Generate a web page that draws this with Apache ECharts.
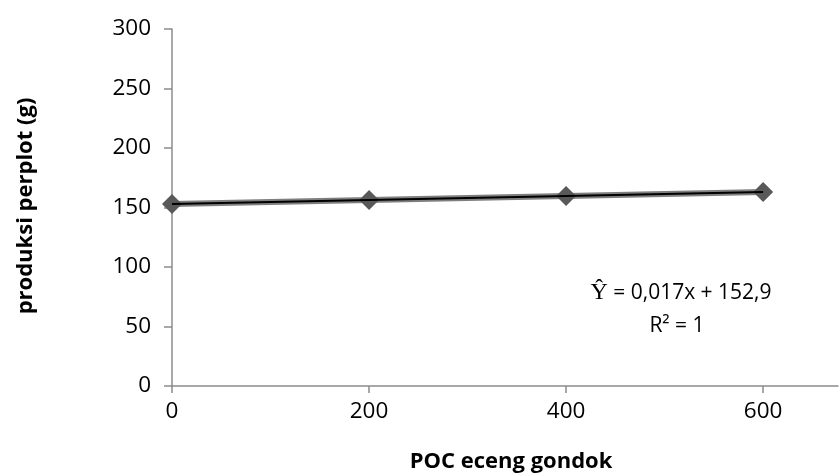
<!DOCTYPE html>
<html><head><meta charset="utf-8">
<script src="https://cdn.jsdelivr.net/npm/echarts@6/dist/echarts.min.js"></script>
<style>html,body{margin:0;padding:0;background:#fff}#c{width:840px;height:475px}</style>
</head><body><div id="c"></div>
<script>
const xValues = [0, 200, 400, 600];
const yValues = [153, 156.3, 159.7, 163.1];
const trendX = [0, 600];
const trendY = [152.9, 163.1];
const xTicks = [0, 200, 400, 600];
const yTicks = [0, 50, 100, 150, 200, 250, 300];

const chart = echarts.init(document.getElementById('c'));
const font = "'Open Sans', 'Noto Sans', sans-serif";
chart.setOption({
  animation: false,
  grid: { left: 172, right: 2, top: 29, bottom: 89 },
  xAxis: {
    type: 'value', min: 0, max: 676,
    axisLine: { show: true, lineStyle: { color: '#8c8c8c', width: 1.5 } },
    axisTick: { show: true, length: 7, customValues: xTicks, lineStyle: { color: '#8c8c8c', width: 1.5 } },
    splitLine: { show: false },
    axisLabel: { color: '#000', fontSize: 22.5, fontFamily: font, margin: 14, customValues: xTicks }
  },
  yAxis: {
    type: 'value', min: 0, max: 300, interval: 50,
    axisLine: { show: true, lineStyle: { color: '#8c8c8c', width: 1.5 } },
    axisTick: { show: true, length: 8, lineStyle: { color: '#8c8c8c', width: 1.5 } },
    splitLine: { show: false },
    axisLabel: { color: '#000', fontSize: 22.5, fontFamily: font, margin: 21, customValues: yTicks }
  },
  series: [
    { type: 'line', data: xValues.map((x, i) => [x, yValues[i]]),
      lineStyle: { color: '#7f7f7f', width: 6 }, symbol: 'diamond', symbolSize: 20,
      itemStyle: { color: '#595959' }, z: 2 },
    { type: 'line', data: trendX.map((x, i) => [x, trendY[i]]),
      lineStyle: { color: '#000', width: 2 }, symbol: 'none', z: 3 }
  ],
  graphic: [
    { type: 'text', x: 511, y: 462,
      style: { text: 'POC eceng gondok', align: 'center', verticalAlign: 'middle', fill: '#000',
        font: "bold 22px 'Open Sans', sans-serif" } },
    { type: 'text', x: 26, y: 206, rotation: Math.PI / 2,
      style: { text: 'produksi perplot (g)', align: 'center', verticalAlign: 'middle', fill: '#000',
        font: "bold 22px 'Open Sans', sans-serif" } },
    { type: 'text', x: 681, y: 293,
      style: { text: '{s|Ŷ} = 0,017x + 152,9', align: 'center', verticalAlign: 'middle', fill: '#000',
        font: "21px 'Open Sans', sans-serif",
        rich: { s: { fontFamily: "'Liberation Serif', serif", fontSize: 24, fill: '#000' } } } },
    { type: 'text', x: 677, y: 326,
      style: { text: 'R² = 1', align: 'center', verticalAlign: 'middle', fill: '#000',
        font: "21px 'Open Sans', sans-serif" } }
  ]
});
</script></body></html>
